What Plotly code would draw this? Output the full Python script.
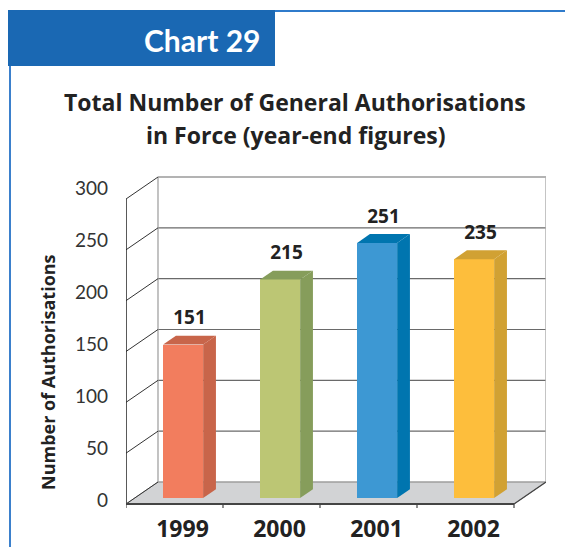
import plotly.graph_objects as go

# ---------------- data ----------------
years = ["1999", "2000", "2001", "2002"]
values = [151, 215, 251, 235]
front_colors = ["#F27D5E", "#BCC674", "#3D98D3", "#FDBE3C"]
side_colors = ["#C8654A", "#869D5B", "#0075AF", "#D1A133"]
y_ticks = [0, 50, 100, 150, 200, 250, 300]
y_tick_labels = [str(t) for t in y_ticks]
title_line1 = "Total Number of General Authorisations"
title_line2 = "in Force (year-end figures)"
chart_label = "Chart 29"
y_title = "Number of Authorisations"

# ---------------- layout geometry ----------------
W, H = 565, 547
PL, PR, PT, PB = 126, 546, 170, 510          # plot area in pixels
K = 305 / 300                                 # px per value unit
UNIT = 97.0                                   # px per category
DX = 32 / UNIT                                # depth offset (x, category units)
DY = 22 / K                                   # depth offset (y, value units)
F0, F1 = 0.27, 0.67                           # bar front/back depth fraction
BW = 40 / UNIT                                # bar width
YMAX = max(y_ticks)
n = len(years)

x_range = [-0.5, n - 0.5 + DX]
y_range = [-(PB - 504) / K, (504 - PT) / K]


def px(x):
    return (x - PL) / (PR - PL)


def py(y):
    return (PB - y) / (PB - PT)


fig = go.Figure()


def bg_line(x0, y0, x1, y1, color, width):
    fig.add_shape(type="line", xref="x", yref="y", x0=x0, y0=y0, x1=x1, y1=y1,
                  line=dict(color=color, width=width), layer="below")


# floor (below traces)
fx = [-0.5, n - 0.5, n - 0.5 + DX, -0.5 + DX]
fy = [0, 0, DY, DY]
path = "M " + " L ".join(f"{a},{b}" for a, b in zip(fx, fy)) + " Z"
fig.add_shape(type="path", xref="x", yref="y", path=path, fillcolor="#D2D3D5",
              line=dict(color="#9A9A9A", width=1), layer="below")

# back wall gridlines
for t in y_ticks:
    col = "#9A9A9A" if t == YMAX else ("#A0A0A0" if t == 0 else "#6A6A6A")
    bg_line(-0.5 + DX, t + DY, n - 0.5 + DX, t + DY, col, 1.5 if t == YMAX else 1.2)
# back wall verticals
bg_line(-0.5 + DX, DY, -0.5 + DX, YMAX + DY, "#9A9A9A", 1.2)
bg_line(n - 0.5 + DX, DY, n - 0.5 + DX, YMAX + DY, "#B0B0B0", 1.5)
# left wall diagonals
for t in y_ticks:
    bg_line(-0.5, t, -0.5 + DX, t + DY, "#333333", 1)
# front axis line
bg_line(-0.5, 0, -0.5, YMAX, "#222222", 1.5)
# front baseline
bg_line(-0.5 - 3 / UNIT, 0, n - 0.5, 0, "#444444", 2)
# floor right diagonal
bg_line(n - 0.5, 0, n - 0.5 + DX, DY, "#444444", 1.2)
# category tick marks
for i in range(n + 1):
    bg_line(i - 0.5, 0, i - 0.5, -4 / K, "#444444", 1.2)

# bars: front faces
bar_x = [i + F0 * DX for i in range(n)]
fig.add_trace(go.Bar(x=bar_x, y=values, base=F0 * DY, width=BW,
                     marker=dict(color=front_colors, line=dict(width=0)),
                     hoverinfo="skip", showlegend=False))

# side and top faces
dd = (F1 - F0) * DX
ddy = (F1 - F0) * DY
for i, v in enumerate(values):
    b0 = F0 * DY
    xl = bar_x[i] - BW / 2
    xr = bar_x[i] + BW / 2
    fig.add_trace(go.Scatter(x=[xr, xr, xr + dd, xr + dd, xr],
                             y=[b0, b0 + v, b0 + v + ddy, b0 + ddy, b0],
                             fill="toself", fillcolor=side_colors[i], mode="lines",
                             line=dict(width=0, color=side_colors[i]),
                             hoverinfo="skip", showlegend=False))
    fig.add_trace(go.Scatter(x=[xl, xr, xr + dd, xl + dd, xl],
                             y=[b0 + v, b0 + v, b0 + v + ddy, b0 + v + ddy, b0 + v],
                             fill="toself", fillcolor=side_colors[i], mode="lines",
                             line=dict(width=0, color=side_colors[i]),
                             hoverinfo="skip", showlegend=False))

# value labels
fig.add_trace(go.Scatter(
    x=[bx + dd / 2 for bx in bar_x],
    y=[F1 * DY + v + 16 / K for v in values],
    mode="text", text=[str(v) for v in values], textposition="middle center",
    textfont=dict(family="Open Sans", size=19, color="#222222", weight="bold"),
    hoverinfo="skip", showlegend=False, cliponaxis=False))

# invisible trace for label axis
fig.add_trace(go.Scatter(x=[0, 0], y=[0, YMAX], yaxis="y2", mode="markers",
                         marker=dict(opacity=0), hoverinfo="skip", showlegend=False))

y2_range = [-(PB - 500) / 1.04, (500 - PT) / 1.04]

fig.update_layout(
    width=W, height=H,
    margin=dict(l=PL, r=W - PR, t=PT, b=H - PB, pad=0, autoexpand=False),
    paper_bgcolor="white", plot_bgcolor="rgba(0,0,0,0)",
    bargap=0,
    xaxis=dict(range=x_range, showgrid=False, zeroline=False, showline=False,
               tickmode="array", tickvals=list(range(n)), ticktext=years,
               ticks="", ticklabelshift=8, ticklabelstandoff=3, automargin=False,
               tickfont=dict(family="Open Sans", size=23, color="#222222", weight="bold"),
               fixedrange=True),
    yaxis=dict(range=y_range, visible=False, fixedrange=True, automargin=False),
    yaxis2=dict(range=y2_range, overlaying="y", side="left", anchor="x",
                showgrid=False, zeroline=False, showline=False, automargin=False,
                tickmode="array", tickvals=y_ticks, ticktext=y_tick_labels,
                ticks="", ticklabelstandoff=17,
                tickfont=dict(family="Lato", size=19, color="#333333"),
                fixedrange=True),
    font=dict(family="Open Sans"),
)

# frame and header box
fig.add_shape(type="line", xref="paper", yref="paper", x0=px(270), x1=px(566), y0=py(11), y1=py(11),
              line=dict(color="#2F7BCB", width=2))
fig.add_shape(type="line", xref="paper", yref="paper", x0=px(10), x1=px(10), y0=py(60), y1=py(548),
              line=dict(color="#3B80CC", width=2))
fig.add_shape(type="rect", xref="paper", yref="paper", x0=px(8), x1=px(275), y0=py(66), y1=py(10),
              fillcolor="#1A68B3", line=dict(width=0))

fig.add_annotation(text=chart_label, xref="paper", yref="paper", x=px(202), y=py(40),
                   showarrow=False, xanchor="center", yanchor="middle",
                   font=dict(family="Lato", size=30, color="white", weight="bold"))
fig.add_annotation(text=title_line1, xref="paper", yref="paper", x=px(295), y=py(102),
                   showarrow=False, xanchor="center", yanchor="middle",
                   font=dict(family="Open Sans", size=23, color="#222222", weight="bold"))
fig.add_annotation(text=title_line2, xref="paper", yref="paper", x=px(296), y=py(135),
                   showarrow=False, xanchor="center", yanchor="middle",
                   font=dict(family="Open Sans", size=23, color="#222222", weight="bold"))
fig.add_annotation(text=y_title, xref="paper", yref="paper", x=px(48), y=py(372),
                   showarrow=False, xanchor="center", yanchor="middle", textangle=-90,
                   font=dict(family="Open Sans", size=18, color="#222222", weight="bold"))

fig.write_html("out.html", post_script="document.body.style.margin='0';",
               config={"displayModeBar": False})
